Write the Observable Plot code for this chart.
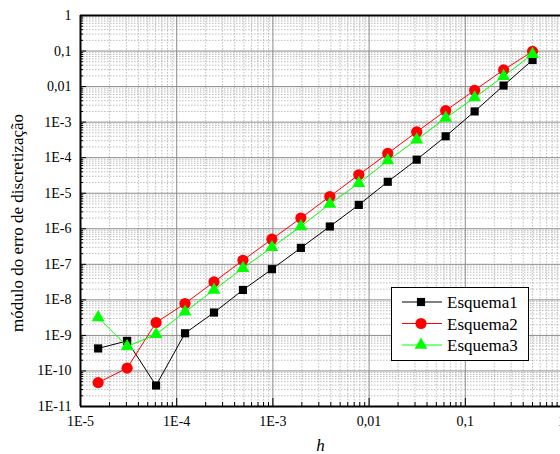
<!DOCTYPE html>
<html><head><meta charset="utf-8">
<script src="https://cdn.jsdelivr.net/npm/d3@7"></script>
<script src="https://cdn.jsdelivr.net/npm/@observablehq/plot@0.6"></script>
<style>
body{margin:0;background:#fff;font-family:"Liberation Serif","DejaVu Serif",serif;}
#wrap{position:relative;width:560px;height:454px;overflow:hidden;}
#wrap svg, #wrap text{font-family:"Liberation Serif","DejaVu Serif",serif;}
#legend{position:absolute;left:0;top:0;pointer-events:none;}
</style></head><body><div id="wrap"></div>
<script>
const h = [1.526e-5, 3.052e-5, 6.104e-5, 1.221e-4, 2.441e-4, 4.883e-4, 9.766e-4, 1.953e-3, 3.906e-3, 7.813e-3, 0.015625, 0.03125, 0.0625, 0.125, 0.25, 0.5];
const esquema1 = [4.3e-10, 7.0e-10, 3.9e-11, 1.15e-9, 4.4e-9, 1.9e-8, 7.3e-8, 2.9e-7, 1.16e-6, 4.7e-6, 2.1e-5, 8.8e-5, 4.0e-4, 2.0e-3, 1.07e-2, 0.056];
const esquema2 = [4.7e-11, 1.2e-10, 2.3e-9, 7.9e-9, 3.2e-8, 1.3e-7, 5.1e-7, 2.0e-6, 8.1e-6, 3.3e-5, 1.32e-4, 5.3e-4, 2.1e-3, 7.9e-3, 0.0295, 0.098];
const esquema3 = [3.2e-9, 4.9e-10, 1.07e-9, 4.6e-9, 1.9e-8, 7.8e-8, 3.0e-7, 1.16e-6, 5.0e-6, 1.9e-5, 8.3e-5, 3.2e-4, 1.3e-3, 4.9e-3, 0.0195, 0.081];

const xTicks = [1e-5, 1e-4, 1e-3, 1e-2, 1e-1, 1];
const xTickLabels = ["1E-5", "1E-4", "1E-3", "0,01", "0,1", "1"];
const yTicks = [1, 1e-1, 1e-2, 1e-3, 1e-4, 1e-5, 1e-6, 1e-7, 1e-8, 1e-9, 1e-10, 1e-11];
const yTickLabels = ["1", "0,1", "0,01", "1E-3", "1E-4", "1E-5", "1E-6", "1E-7", "1E-8", "1E-9", "1E-10", "1E-11"];

const seriesNames = ["Esquema1", "Esquema2", "Esquema3"];
const seriesColors = ["#000000", "#ff0000", "#00ff00"];
const seriesSymbols = ["square", "circle", "triangle"];
const seriesR = [4.6, 5.6, 4.8];
const seriesValues = [esquema1, esquema2, esquema3];

const minorX = [];
xTicks.slice(0, -1).forEach(d => { for (let m = 2; m <= 9; m++) minorX.push(d * m); });
const minorY = [];
yTicks.slice(1).forEach(d => { for (let m = 2; m <= 9; m++) minorY.push(d * m); });

const font = "Liberation Serif, DejaVu Serif, serif";

const seriesMarks = [];
seriesValues.forEach((vals, k) => {
  const rows = vals.map((v, i) => ({h: h[i], e: v}));
  seriesMarks.push(Plot.line(rows, {x: "h", y: "e", stroke: seriesColors[k], strokeWidth: 1}));
  seriesMarks.push(Plot.dot(rows, {x: "h", y: "e", fill: seriesColors[k], stroke: "none", symbol: seriesSymbols[k], r: seriesR[k]}));
});

const chart = Plot.plot({
  width: 560,
  height: 454,
  marginLeft: 80,
  marginRight: 0,
  marginTop: 15,
  marginBottom: 48,
  style: {fontFamily: font, fontSize: "14px", color: "#000", background: "#fff"},
  x: {type: "log", domain: [1e-5, 1], range: [80, 561]},
  y: {type: "log", domain: [1e-11, 1]},
  marks: [
    Plot.ruleX(minorX, {stroke: "#bdbdbd", strokeWidth: 1, strokeDasharray: "1.5,1.5"}),
    Plot.ruleY(minorY, {stroke: "#bdbdbd", strokeWidth: 1, strokeDasharray: "1.5,1.5"}),
    Plot.ruleX(xTicks, {stroke: "#8c8c8c", strokeWidth: 1}),
    Plot.ruleY(yTicks, {stroke: "#8c8c8c", strokeWidth: 1}),
    ...seriesMarks,
    Plot.ruleY([1], {stroke: "#000", strokeWidth: 2}),
    Plot.ruleY([1e-11], {stroke: "#000", strokeWidth: 2}),
    Plot.ruleX([1e-5], {stroke: "#000", strokeWidth: 2}),
    Plot.axisX(minorX, {anchor: "bottom", tickSize: -4, tickFormat: () => "", label: null}),
    Plot.axisX(xTicks, {anchor: "bottom", tickSize: -8, tickFormat: () => "", label: null}),
    Plot.axisY(minorY, {anchor: "left", tickSize: -3, tickFormat: () => "", label: null}),
    Plot.axisY(yTicks, {anchor: "left", tickSize: -6, tickFormat: () => "", label: null}),
    Plot.axisX(xTicks, {anchor: "bottom", tickSize: 0, tickPadding: 10, fontSize: 14, tickFormat: d => xTickLabels[xTicks.indexOf(d)], label: null}),
    Plot.axisY(yTicks, {anchor: "left", tickSize: 0, tickPadding: 9, fontSize: 14, tickFormat: d => yTickLabels[yTicks.indexOf(d)], label: null}),
    Plot.text(["módulo do erro de discretização"], {frameAnchor: "left", textAnchor: "middle", lineAnchor: "middle", dx: -63, dy: 12, rotate: -90, fontSize: 17, fill: "#000"}),
    Plot.text(["h"], {frameAnchor: "bottom", textAnchor: "middle", lineAnchor: "middle", dy: 39, fontSize: 17, fontStyle: "italic", fill: "#000"})
  ]
});

const wrap = document.getElementById("wrap");
wrap.appendChild(chart);

// Legend overlay inside the plot area
const svg = d3.select(wrap).append("svg")
  .attr("id", "legend").attr("width", 560).attr("height", 454);
const lx = 391, ly = 287, lw = 137, lh = 73;
svg.append("rect").attr("x", lx + 0.5).attr("y", ly + 0.5).attr("width", lw).attr("height", lh)
  .attr("fill", "#fff").attr("stroke", "#000").attr("stroke-width", 1);
const symArea = r => Math.PI * r * r;
const d3sym = {square: d3.symbolSquare, circle: d3.symbolCircle, triangle: d3.symbolTriangle};
seriesNames.forEach((name, k) => {
  const cy = ly + 15 + k * 21.5;
  svg.append("line").attr("x1", lx + 11).attr("x2", lx + 51).attr("y1", cy).attr("y2", cy)
    .attr("stroke", seriesColors[k]).attr("stroke-width", 1);
  svg.append("path").attr("transform", `translate(${lx + 30},${cy})`)
    .attr("d", d3.symbol(d3sym[seriesSymbols[k]], symArea(seriesR[k]))())
    .attr("fill", seriesColors[k]);
  svg.append("text").attr("x", lx + 56).attr("y", cy + 6)
    .attr("font-family", font).attr("font-size", 17).attr("fill", "#000").text(name);
});
</script>
</body></html>
